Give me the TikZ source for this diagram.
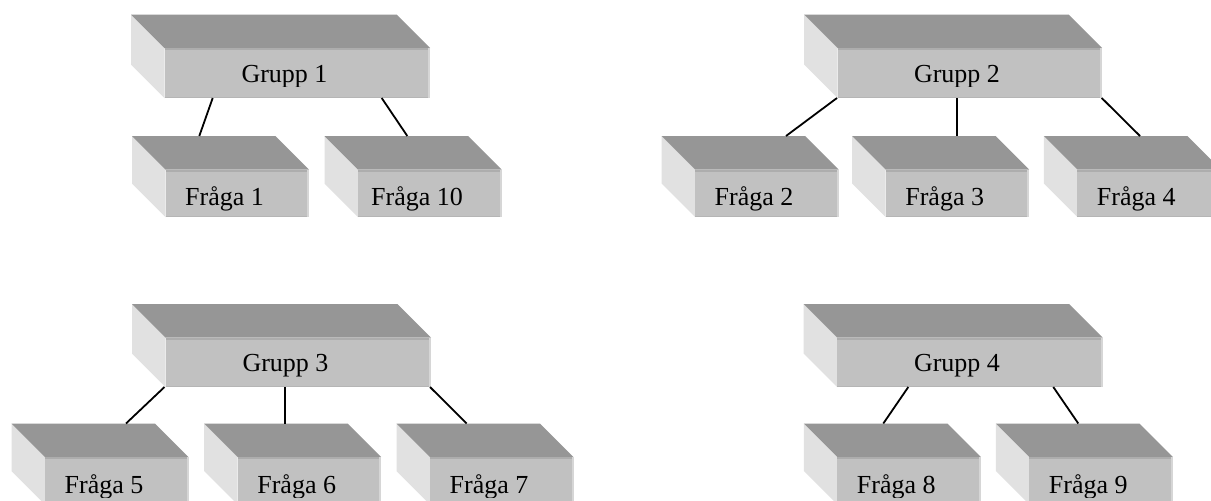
\documentclass[tikz,border=0pt]{standalone}
\usepackage{fontspec}
\setmainfont{Liberation Serif}
\usetikzlibrary{calc}
\definecolor{topc}{HTML}{969696}
\definecolor{frontc}{HTML}{C1C1C1}
\definecolor{sidec}{HTML}{E1E1E1}
\definecolor{bandtop}{HTML}{ADADAD}
\definecolor{bandside}{HTML}{D6D6D6}
\definecolor{bandbot}{HTML}{B5B5B5}
\tikzset{
  conn/.style={draw=black, line width=1.8pt},
  frontface/.style={fill=frontc, draw=none, inner sep=0pt, outer sep=0pt, anchor=north west},
  boxlabel/.style={font=\fontsize{26}{30}\selectfont, inner sep=0pt, anchor=base, text=black},
}
% #1 name, #2 x, #3 y (front face top), #4 width, #5 height, #6 baseline offset, #7 text
\newcommand\boxthreed[7]{%
  \fill[sidec] ({#2-33.5},{#3-33.5}) -- (#2,#3) -- (#2,{#3+#5}) -- ({#2-33.5},{#3+#5-33.5}) -- cycle;
  \fill[topc] ({#2-33.5},{#3-33.5}) -- ({#2+#4-33.5},{#3-33.5}) -- ({#2+#4},#3) -- (#2,#3) -- cycle;
  \node[frontface, minimum width=#4pt, minimum height=#5pt] (#1) at (#2,#3) {};
  \draw[bandtop, line width=2pt] (#2,{#3+1}) -- ({#2+#4},{#3+1});
  \draw[bandside, line width=2pt] ({#2+#4-1},#3) -- ({#2+#4-1},{#3+#5});
  \draw[bandbot, line width=1.5pt] (#2,{#3+#5-0.75}) -- ({#2+#4-2},{#3+#5-0.75});
  \coordinate (#1-bl) at ({#2-33.5},{#3-33.5});
  \begin{scope}
    \clip (#2,#3) rectangle ({#2+#4},{#3+#6+4.5});
    \node[boxlabel] (#1-t) at ({#2+(#4-33.5)/2+4},{#3+#6}) {#7};
  \end{scope}
}
\begin{document}
\begin{tikzpicture}[x=1pt,y=-1pt]
  \useasboundingbox (0,0) rectangle (1211,501);
  \clip (0,0) rectangle (1211,501);
  \fill[white] (0,0) rectangle (1211,501);

  % group boxes
  \boxthreed{g1}{164.5}{48}{265.5}{50}{34.3}{Grupp 1}
  \boxthreed{g2}{837.5}{48}{264.5}{50}{34.3}{Grupp 2}
  \boxthreed{g3}{165.5}{337.5}{265.5}{49.5}{34.3}{Grupp 3}
  \boxthreed{g4}{837}{337.5}{265.5}{49.5}{34.3}{Grupp 4}

  % question boxes
  \boxthreed{f1}{165.5}{169.5}{143.5}{47.5}{36}{Fråga 1}
  \boxthreed{f10}{358}{169.5}{143.5}{47.5}{36}{Fråga 10}
  \boxthreed{f2}{695}{169.5}{143.5}{47.5}{36}{Fråga 2}
  \boxthreed{f3}{885.7}{169.5}{143.5}{47.5}{36}{Fråga 3}
  \boxthreed{f4}{1077.3}{169.5}{143.5}{47.5}{36}{Fråga 4}
  \boxthreed{f5}{45}{457}{143.5}{47.5}{36}{Fråga 5}
  \boxthreed{f6}{237.7}{457}{143.5}{47.5}{36}{Fråga 6}
  \boxthreed{f7}{430}{457}{143.5}{47.5}{36}{Fråga 7}
  \boxthreed{f8}{837.3}{457}{143.5}{47.5}{36}{Fråga 8}
  \boxthreed{f9}{1029.3}{457}{143.5}{47.5}{36}{Fråga 9}

  % connectors
  \draw[conn] ($(g1.south west)+(48.2,0)$) -- ($(f1-bl)+(67.3,0)$);
  \draw[conn] ($(g1.south west)+(217.2,0)$) -- ($(f10-bl)+(82.8,0)$);
  \draw[conn] ($(g2.south west)+(-0.5,0)$) -- ($(f2-bl)+(124.5,0)$);
  \draw[conn] ($(g2.south west)+(119.8,0)$) -- ($(f3-bl)+(105.1,0)$);
  \draw[conn] ($(g2.south west)+(264.2,0)$) -- ($(f4-bl)+(96.2,0)$);
  \draw[conn] ($(g3.south west)+(-1,0)$) -- ($(f5-bl)+(114.5,0)$);
  \draw[conn] ($(g3.south west)+(119.5,0)$) -- ($(f6-bl)+(80.8,0)$);
  \draw[conn] ($(g3.south west)+(264.5,0)$) -- ($(f7-bl)+(70.2,0)$);
  \draw[conn] ($(g4.south west)+(71.3,0)$) -- ($(f8-bl)+(79.5,0)$);
  \draw[conn] ($(g4.south west)+(216.3,0)$) -- ($(f9-bl)+(82.5,0)$);
\end{tikzpicture}
\end{document}
